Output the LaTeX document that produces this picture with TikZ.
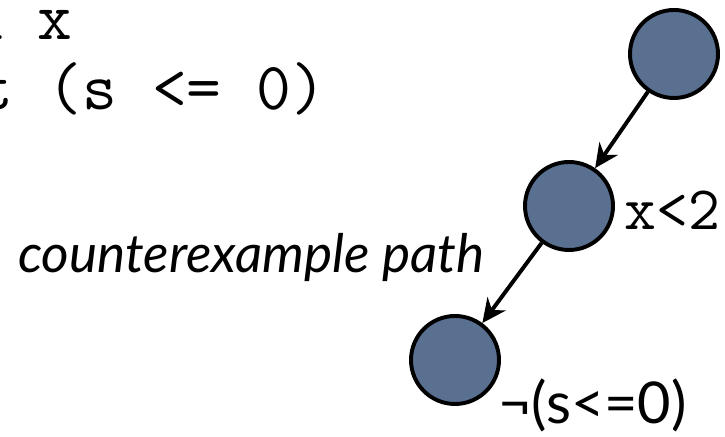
\documentclass[tikz,border=0pt]{standalone}
\usepackage{fontspec}
\newfontfamily\gillfont{Lato}
\usetikzlibrary{arrows.meta}
\definecolor{nodeblue}{RGB}{90,112,145}

\begin{document}
\begin{tikzpicture}[
  state/.style={circle,draw=black,line width=2.8pt,fill=nodeblue,minimum size=2.2cm,inner sep=0pt},
  edge/.style={-{Stealth[length=17pt,width=16pt]},line width=2.8pt},
  code/.style={font=\fontsize{48}{50}\selectfont\ttfamily,inner sep=0pt,anchor=base west},
  cond/.style={font=\fontsize{41}{44}\selectfont\gillfont,inner sep=0pt,anchor=base west}]
\useasboundingbox (0,0) rectangle (18.125,10.925);
\clip (0,0) rectangle (18.125,10.925);

\node[code] (line1) at (-0.8,9.925) {n x};
\node[code] (line2) at (-0.55,8.175) {t (s <= 0)};

\node[font=\fontsize{37.8}{40}\selectfont\gillfont\itshape,inner sep=0pt,anchor=base west] (cex) at (0.45,4.1) {counterexample path};

\node[state] (root) at (16.85,9.575) {};
\node[state] (mid) at (14.225,5.775) {};
\node[state] (leaf) at (11.375,1.925) {};

\node[code,font=\fontsize{44}{48}\selectfont\ttfamily] (gx) at (15.6,5.175) {x<2};
\node[cond] (gs) at (12.45,0.325) {¬(s<=0)};

\draw[edge] (root)--(mid);
\draw[edge] (mid)--(leaf);
\end{tikzpicture}
\end{document}
